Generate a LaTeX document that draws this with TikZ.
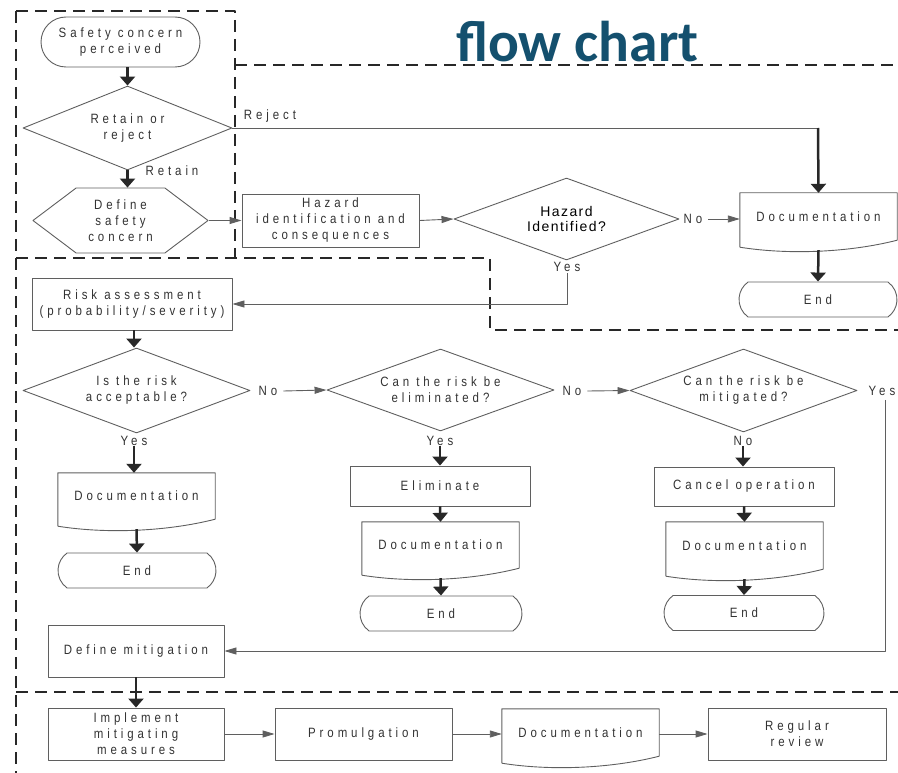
\documentclass[tikz,border=0pt]{standalone}
\usepackage{fontspec}
\usetikzlibrary{shapes.geometric,shapes.misc,shapes.symbols,arrows.meta}

\newfontfamily\chartfont[LetterSpace=29,FakeStretch=0.85]{Liberation Sans}
\newfontfamily\askfont[LetterSpace=10]{Liberation Sans}
\newfontfamily\titlefont{Carlito}

\definecolor{titleblue}{RGB}{20,80,110}
\definecolor{inkgray}{RGB}{50,50,50}
\definecolor{edgegray}{RGB}{95,95,95}
\definecolor{framedark}{RGB}{40,40,40}

\tikzset{
  chart/.style={font=\chartfont\fontsize{13.5}{16}\selectfont, text=inkgray, align=center, inner sep=0pt},
  tag/.style={chart},
  stepbox/.style={chart, draw=edgegray, line width=0.9pt, rectangle},
  askbox/.style={chart, draw=edgegray, line width=0.9pt, diamond, aspect=2.7},
  termbox/.style={chart, draw=edgegray, line width=0.9pt, rounded rectangle},
  endbox/.style={termbox, rounded rectangle arc length=110, minimum height=35pt},
  hexbox/.style={chart, draw=edgegray, line width=0.9pt, signal, signal to=east and west, signal pointer angle=74},
  docbox/.style={chart, minimum width=157pt},
  frame/.style={draw=framedark, line width=1.5pt, dash pattern=on 12pt off 7pt},
  tarrow/.style={draw=framedark, line width=2.5pt, -{Triangle[width=15pt,length=9pt]}},
  larrow/.style={draw=edgegray, line width=0.9pt, -{Triangle[width=7pt,length=12pt]}},
  flowline/.style={draw=edgegray, line width=0.9pt},
}

% document symbol: straight top and sides, wavy bottom
\newcommand\docwave[1]{%
  \draw[draw=edgegray, line width=0.9pt] ([yshift=-7pt]#1.south west) -- (#1.north west) -- (#1.north east) -- (#1.south east)
    .. controls ([xshift=-47pt,yshift=-12pt]#1.south east) and ([xshift=50pt,yshift=-15pt]#1.south west) .. ([yshift=-7pt]#1.south west);}

\begin{document}
\begin{tikzpicture}[x=1pt, y=-1pt, line join=round]

  %% ════ title ════
  \node[anchor=base west, inner sep=0pt, text=titleblue, font=\titlefont\bfseries\fontsize{57.5}{60}\selectfont] (title) at (456,62) {flow chart};

  %% ════ dashed frames ════
  \draw[frame] (16,11) -- (16,773);
  \draw[frame] (16,11) -- (235,11) -- (235,258);
  \draw[frame, line width=1.2pt] (235,65) -- (898,65);
  \draw[frame] (16,258) -- (490,258) -- (490,330) -- (898,330);
  \draw[frame] (16,692) -- (898,692);

  %% ════ top panel ════
  \node[termbox, minimum width=159pt, minimum height=50pt] (start) at (120.5,42) {Safety concern\\perceived};
  \node[askbox, minimum width=209pt, minimum height=84pt] (retq) at (127.5,128) {Retain or\\reject};
  \node[hexbox, minimum width=175pt, minimum height=65pt] (defsc) at (120.5,220.5) {Define\\safety\\concern};
  \node[stepbox, minimum width=177pt, minimum height=53pt] (hazid) at (330.5,220.5) {Hazard\\identification and\\consequences};
  \node[askbox, minimum width=225pt, minimum height=82pt, font=\askfont\fontsize{14}{15.5}\selectfont, text=black] (hazq) at (566.5,219) {Hazard\\Identified?};
  \node[docbox, minimum height=47pt] (docA) at (818.5,216.5) {Documentation};
  \node[endbox, minimum width=158pt] (endA) at (818,299.5) {End};

  \node[tag] (lretain) at (172,170.5) {Retain};
  \node[tag] (lreject) at (270,116) {Reject};
  \node[tag] (lnoH) at (693,219) {No};
  \node[tag] (lyesH) at (567,266.5) {Yes};
  \coordinate (rejturn) at (818,128);

  %% ════ risk panel ════
  \node[stepbox, minimum width=200pt, minimum height=52pt] (risk) at (132,304) {Risk assessment\\(probability/severity)};
  \node[askbox, minimum width=227pt, minimum height=85pt] (accq) at (136.5,390.5) {Is the risk\\acceptable?};
  \node[askbox, minimum width=227pt, minimum height=82pt] (elimq) at (440.5,390) {Can the risk be\\eliminated?};
  \node[askbox, minimum width=227pt, minimum height=83pt] (mitq) at (743.5,390.5) {Can the risk be\\mitigated?};

  \node[tag] (lnoA) at (268,391) {No};
  \node[tag] (lyesA) at (134,441) {Yes};
  \node[tag] (lnoE) at (572,391) {No};
  \node[tag] (lyesE) at (440,441) {Yes};
  \node[tag] (lnoM) at (743,441) {No};
  \node[tag] (lyesM) at (882,391) {Yes};

  \node[docbox, minimum height=46pt] (docB) at (136.5,496) {Documentation};
  \node[endbox, minimum width=158pt] (endB) at (137,570.5) {End};

  \node[stepbox, minimum width=180pt, minimum height=40pt] (elimbox) at (440,486) {Eliminate};
  \node[docbox, minimum height=46pt] (docC) at (440.5,545) {Documentation};
  \node[endbox, minimum width=162pt] (endC) at (441,613.5) {End};

  \node[stepbox, minimum width=180pt, minimum height=39pt] (cancel) at (744,486.5) {Cancel operation};
  \node[docbox, minimum height=47pt] (docD) at (744.5,545.5) {Documentation};
  \node[endbox, minimum width=160pt] (endD) at (744,613) {End};

  \node[stepbox, minimum width=176pt, minimum height=52pt] (defmit) at (136,651) {Define mitigation};

  %% ════ bottom panel ════
  \node[stepbox, minimum width=176pt, minimum height=52pt] (implement) at (136,734) {Implement\\mitigating\\measures};
  \node[stepbox, minimum width=177pt, minimum height=52pt] (promul) at (363.5,734) {Promulgation};
  \node[docbox, minimum height=47pt] (docE) at (580.5,732.5) {Documentation};
  \node[stepbox, minimum width=178pt, minimum height=52pt] (review) at (797,734) {Regular\\review};

  %% ════ document outlines ════
  \docwave{docA}
  \docwave{docB}
  \docwave{docC}
  \docwave{docD}
  \docwave{docE}

  %% ════ connectors ════
  \draw[tarrow] (retq.north |- start.south) -- (retq.north);
  \draw[tarrow] (retq.south) -- (defsc.north -| retq.south);
  \draw[flowline] (retq.east) -- (rejturn);
  \draw[tarrow] (rejturn) -- (docA.north);
  \draw[larrow] (defsc.east) -- (hazid.west);
  \draw[larrow] (hazid.east) -- (hazq.west);
  \draw[larrow] ([xshift=6pt]lnoH.east) -- (lnoH.east -| docA.west);
  \draw[tarrow] ([yshift=-10pt]docA.south) -- (endA.north);
  \draw[larrow] ([yshift=-2pt]lyesH.south) |- (risk.east);

  \draw[tarrow] (risk.south -| lyesA.south) -- (accq.north -| lyesA.south);
  \draw[larrow] ([xshift=6pt]lnoA.east) -- (elimq.west);
  \draw[larrow] ([xshift=6pt]lnoE.east) -- (mitq.west);
  \draw[tarrow] (lyesA.south) -- (docB.north -| lyesA.south);
  \draw[tarrow] ([yshift=-10pt]docB.south) -- (endB.north);
  \draw[tarrow] (lyesE.south) -- (elimbox.north);
  \draw[tarrow] (elimbox.south) -- (docC.north);
  \draw[tarrow] ([yshift=-10pt]docC.south) -- (endC.north);
  \draw[tarrow] (lnoM.south) -- (cancel.north -| lnoM.south);
  \draw[tarrow] (cancel.south) -- (docD.north);
  \draw[tarrow] ([yshift=-10pt]docD.south) -- (endD.north);
  \draw[larrow] ([xshift=3pt,yshift=-4pt]lyesM.south) |- (defmit.east);

  \draw[tarrow] (defmit.south) -- (implement.north);
  \draw[larrow] (implement.east) -- (promul.west);
  \draw[larrow] (promul.east) -- (promul.east -| docE.west);
  \draw[larrow] (docE.east |- review.west) -- (review.west);

  \pgfresetboundingbox
  \path[use as bounding box] (0,0) rectangle (898,773);
\end{tikzpicture}
\end{document}
